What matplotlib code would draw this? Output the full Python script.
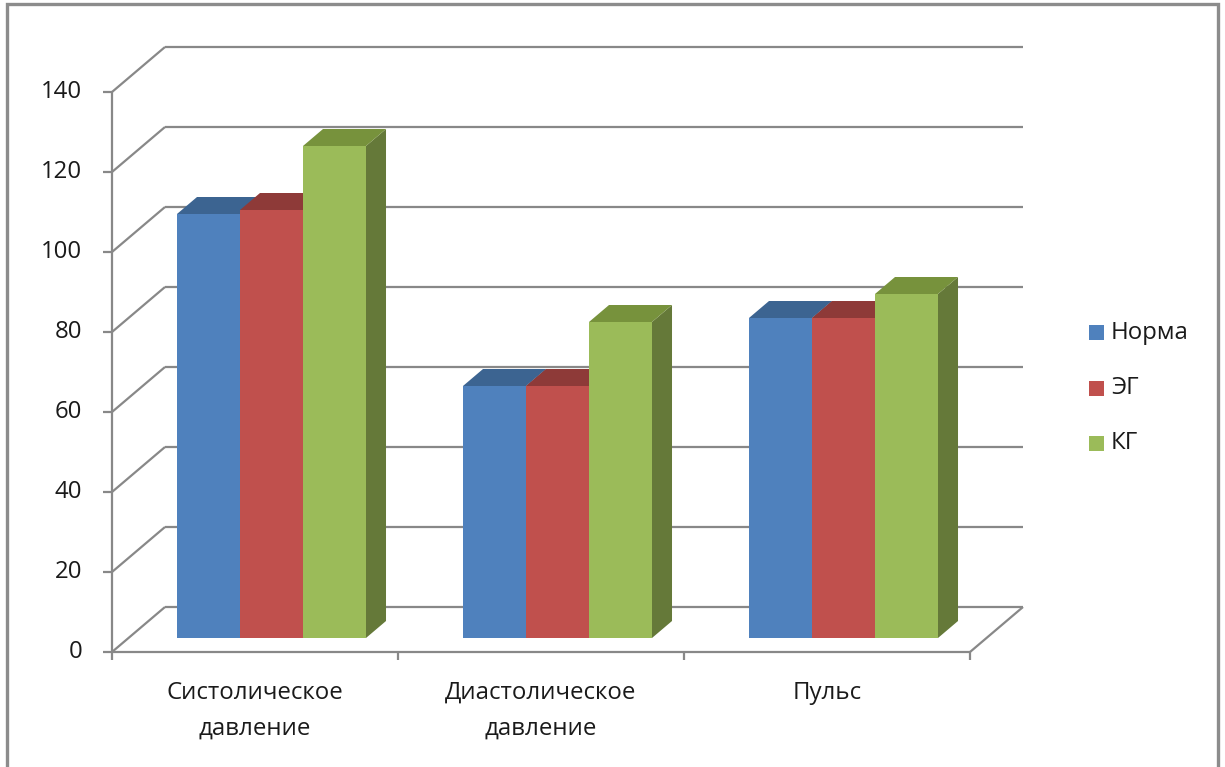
import matplotlib
matplotlib.use("Agg")
import matplotlib.pyplot as plt
from matplotlib.patches import Polygon, Rectangle

# ---- data ----
categories = ["Систолическое\nдавление", "Диастолическое\nдавление", "Пульс"]
series_names = ["Норма", "ЭГ", "КГ"]
norma = [106, 63, 80]
eg = [107, 63, 80]
kg = [123, 79, 86]
y_ticks = [0, 20, 40, 60, 80, 100, 120, 140]

series_values = [norma, eg, kg]
front_colors = ["#4F81BD", "#C0504D", "#9BBB59"]
top_colors = ["#3C6491", "#8E3A38", "#77923C"]
side_colors = ["#375A85", "#833533", "#657939"]

plt.rcParams['font.family'] = ['Open Sans', 'DejaVu Sans']
FS = 17.3

W, H = 1225, 767
fig = plt.figure(figsize=(W / 100, H / 100), dpi=100)
fig.patch.set_facecolor("white")

# outer frame
frame = Rectangle((7 / W, -0.05), (1218 - 7) / W, (767 - 4) / H + 0.05,
                  transform=fig.transFigure, fill=False, edgecolor="#8C8C8C",
                  linewidth=2.4, zorder=0)
fig.patches.append(frame)

x0, x1 = 112, 970
y_front0, y_front140 = 652, 92
ax = fig.add_axes([x0 / W, (H - y_front0) / H, (x1 - x0) / W, (y_front0 - y_front140) / H])
ncat = len(categories)
ymax = y_ticks[-1]
ax.set_xlim(0, ncat)
ax.set_ylim(0, ymax)
ax.axis("off")

# depth vector (full depth), in data units
px_per_x = (x1 - x0) / ncat
px_per_y = (y_front0 - y_front140) / ymax
DX = 53 / px_per_x
DY = 45 / px_per_y

grid_c = "#888888"
glw = 1.6

def line(xs, ys, **kw):
    ax.plot(xs, ys, color=kw.pop("color", grid_c), lw=kw.pop("lw", glw),
            clip_on=False, solid_capstyle="butt", **kw)

# back wall gridlines + left wall diagonals
for t in y_ticks:
    line([DX, ncat + DX], [t + DY, t + DY], zorder=1)
    line([0, DX], [t, t + DY], zorder=1)
# floor right edge
line([ncat, ncat + DX], [0, DY], zorder=1)

# axes lines
line([0, 0], [0, ymax], zorder=5)
line([0, ncat], [0, 0], zorder=5)

# y ticks and labels
tick_dx = 9 / px_per_x
for t in y_ticks:
    line([-tick_dx, 0], [t, t], zorder=5)
    ax.text(-30 / px_per_x, t, str(t), ha="right", va="center",
            fontsize=FS, color="#1A1A1A", clip_on=False)

# category ticks
for i in range(ncat + 1):
    line([i, i], [0, -8 / px_per_y], zorder=5)

# category labels
for i, c in enumerate(categories):
    ax.text(i + 0.5, -29 / px_per_y, c, ha="center", va="top",
            fontsize=FS, color="#1A1A1A", linespacing=1.62, clip_on=False)

# bars
f0 = 14 / 45
fd = 17 / 45
bw = 63 / px_per_x
gstart = 0.5 - 1.5 * bw
bdx, bdy = fd * DX, fd * DY
z = 10
for i in range(ncat):
    for s, vals in enumerate(series_values):
        v = vals[i]
        xl = i + gstart + s * bw + f0 * DX
        xr = xl + bw
        yb = f0 * DY
        yt = yb + v
        front = Polygon([(xl, yb), (xr, yb), (xr, yt), (xl, yt)], closed=True,
                        facecolor=front_colors[s], edgecolor="none", zorder=z)
        top = Polygon([(xl, yt), (xr, yt), (xr + bdx, yt + bdy), (xl + bdx, yt + bdy)],
                      closed=True, facecolor=top_colors[s], edgecolor="none", zorder=z)
        side = Polygon([(xr, yb), (xr + bdx, yb + bdy), (xr + bdx, yt + bdy), (xr, yt)],
                       closed=True, facecolor=side_colors[s], edgecolor="none", zorder=z)
        for p in (side, top, front):
            p.set_clip_on(False)
            ax.add_patch(p)
        z += 1

# legend
leg_y = [333, 388, 443]
for s, name in enumerate(series_names):
    yc = (H - leg_y[s]) / H
    sq = Rectangle((1089 / W, yc - 7.5 / H), 15 / W, 15 / H, transform=fig.transFigure,
                   facecolor=front_colors[s], edgecolor="none")
    fig.patches.append(sq)
    fig.text(1111 / W, yc, name, ha="left", va="center", fontsize=FS, color="#1A1A1A")

fig.savefig("out.png", dpi=100, facecolor="white")
